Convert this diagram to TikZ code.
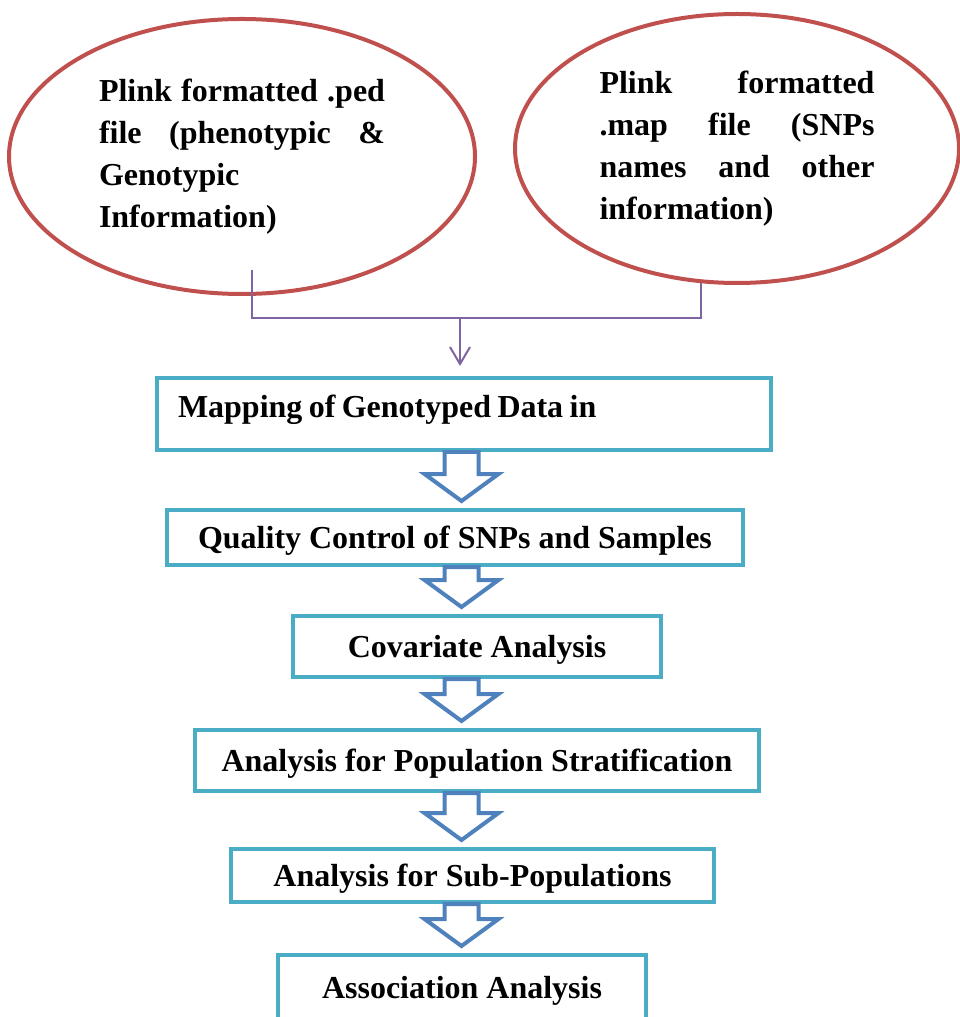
\documentclass[tikz,border=0pt]{standalone}
\usepackage{fontspec}
\setmainfont{Liberation Serif}
\usepackage{tikz}
\usetikzlibrary{arrows.meta,shapes.geometric,calc}

\definecolor{ovalred}{HTML}{C0504D}
\definecolor{boxaqua}{HTML}{4BACC6}
\definecolor{arrowblue}{HTML}{4F81BD}
\definecolor{linkpurple}{HTML}{8064A2}

\begin{document}
\begin{tikzpicture}[
  font=\fontsize{9.1}{11.95}\selectfont\bfseries,
  oval/.style={ellipse, draw=ovalred, line width=0.04cm, inner sep=0pt},
  stage/.style={rectangle, draw=boxaqua, line width=0.04cm, inner sep=0pt, text depth=0pt},
  link/.style={draw=linkpurple, line width=0.02cm},
  flow/.style={draw=arrowblue, fill=white, line width=0.04cm, line join=miter},
  >={Straight Barb[length=0.17cm,width=0.2cm]}
]
\useasboundingbox (0cm,0cm) rectangle (9.59cm,-10.17cm);

% the two plink input files
\node[oval, minimum width=4.66cm, minimum height=2.75cm] (pedfile) at (2.42cm,-1.565cm)
  {\parbox{2.86cm}{Plink formatted .ped\linebreak file (phenotypic \&\linebreak Genotypic\newline Information)}};
\node[oval, minimum width=4.44cm, minimum height=2.69cm] (mapfile) at (7.37cm,-1.485cm)
  {\parbox{2.75cm}{Plink formatted\linebreak .map file (SNPs\linebreak names and other\linebreak information)}};

% pipeline steps
\node[stage, minimum width=6.14cm, minimum height=0.72cm, text width=5.72cm, inner xsep=0.21cm,
  align=left, text depth=0.16cm] (mapping) at (4.64cm,-4.14cm)
  {\spaceskip=0.2em Mapping of Genotyped Data in};
\node[stage, minimum width=5.76cm, minimum height=0.55cm] (quality) at (4.55cm,-5.375cm) {Quality Control of SNPs and Samples};
\node[stage, minimum width=3.68cm, minimum height=0.61cm] (covariate) at (4.77cm,-6.465cm) {Covariate Analysis};
\node[stage, minimum width=5.64cm, minimum height=0.61cm] (strata) at (4.77cm,-7.605cm) {Analysis for Population Stratification};
\node[stage, minimum width=4.83cm, minimum height=0.53cm] (subpop) at (4.725cm,-8.755cm) {Analysis for Sub-Populations};
\node[stage, minimum width=3.68cm, minimum height=0.65cm] (assoc) at (4.62cm,-9.875cm) {Association Analysis};

% join both files into the first step
\coordinate (pedfoot) at ($(pedfile.center)+(0.10cm,-1.14cm)$);
\coordinate (join) at (4.60cm,-3.18cm);
\draw[link] (pedfoot) |- (join) -| (mapfile.255);
\draw[link,->,shorten >=0.1cm] (join) -- (join |- mapping.north);

% hollow block arrows between the steps
\foreach \from/\to in {mapping/quality, quality/covariate, covariate/strata, strata/subpop, subpop/assoc}
  \path[flow] let \p1=(\from.south), \p2=(\to.north) in
    (4.445cm,\y1) -- (4.445cm,\y2+0.34cm) -- (4.245cm,\y2+0.34cm) -- (4.615cm,\y2+0.07cm)
    -- (4.985cm,\y2+0.34cm) -- (4.785cm,\y2+0.34cm) -- (4.785cm,\y1) -- cycle;
\end{tikzpicture}
\end{document}
